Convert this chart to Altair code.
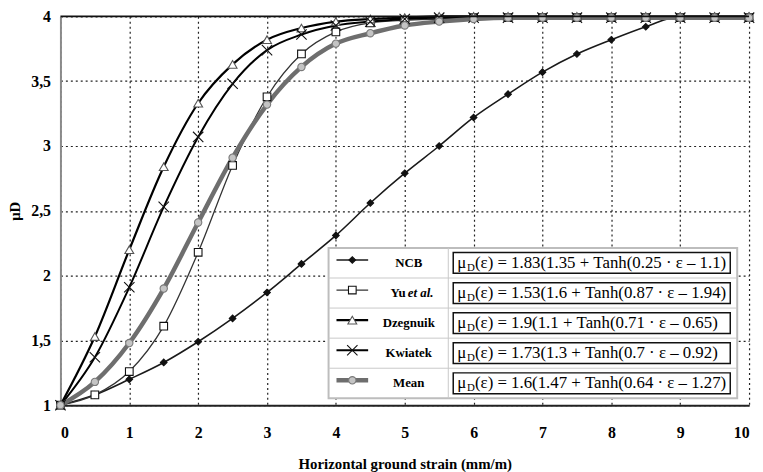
import altair as alt
import pandas as pd

# ---------------- data ----------------
strain = [0, 0.5, 1, 1.5, 2, 2.5, 3, 3.5, 4, 4.5, 5, 5.5, 6, 6.5, 7, 7.5, 8, 8.5, 9, 9.5, 10]
ncb = [1.0, 1.08, 1.20, 1.33, 1.49, 1.67, 1.87, 2.09, 2.31, 2.56, 2.79, 3.00, 3.22, 3.40,
       3.57, 3.71, 3.82, 3.92, 4.0, 4.0, 4.0]
yu = [1.0, 1.08, 1.26, 1.61, 2.18, 2.85, 3.38, 3.71, 3.88, 3.95, 3.97, 3.98, 3.99, 3.99,
      3.99, 3.99, 3.99, 3.99, 3.99, 3.99, 3.99]
dzegnuik = [1.0, 1.53, 2.20, 2.84, 3.33, 3.63, 3.82, 3.91, 3.96, 3.98, 3.99, 4.0, 4.0, 4.0,
            4.0, 4.0, 4.0, 4.0, 4.0, 4.0, 4.0]
kwiatek = [1.0, 1.37, 1.91, 2.53, 3.07, 3.48, 3.74, 3.86, 3.93, 3.96, 3.98, 3.99, 3.99, 3.99,
           3.99, 3.99, 3.99, 3.99, 3.99, 3.99, 3.99]
mean = [1.0, 1.18, 1.48, 1.90, 2.41, 2.91, 3.32, 3.61, 3.79, 3.87, 3.93, 3.96, 3.98, 3.99,
        3.99, 3.99, 3.99, 3.99, 3.99, 3.99, 3.99]

series = ["NCB", "Yu et al.", "Dzegnuik", "Kwiatek", "Mean"]
values = [ncb, yu, dzegnuik, kwiatek, mean]
name_main = ["NCB", "Yu", "Dzegnuik", "Kwiatek", "Mean"]
name_italic = ["", "et al.", "", "", ""]
formula_rest = [
    "(ε) = 1.83(1.35 + Tanh(0.25 · ε – 1.1)",
    "(ε) = 1.53(1.6 + Tanh(0.87 · ε – 1.94)",
    "(ε) = 1.9(1.1 + Tanh(0.71 · ε – 0.65)",
    "(ε) = 1.73(1.3 + Tanh(0.7 · ε – 0.92)",
    "(ε) = 1.6(1.47 + Tanh(0.64 · ε – 1.27)",
]
x_ticks = list(range(11))
y_ticks = [1, 1.5, 2, 2.5, 3, 3.5, 4]

# ---------------- styles ----------------
line_colors = ["#1a1a1a", "#333333", "#000000", "#000000", "#6e6e6e"]
line_widths = [1.6, 1.3, 2.2, 2.0, 4.5]
shapes = ["diamond", "square", "triangle-up", "M-1,-1L1,1M-1,1L1,-1", "circle"]
sizes = [45, 60, 80, 110, 55]
fills = ["#111111", "#ffffff", "#ffffff", "#000000", "#c4c4c4"]
strokes = ["#111111", "#111111", "#555555", "#111111", "#7a7a7a"]

W, H = 696, 393
XMAX, YMIN, YMAX = 10, 1, 4
FONT = "Liberation Serif"
TOP = 14  # page y of the plot's top edge

def xd(px):
    return px / W * XMAX

def yd(py):
    return YMAX - py / H * (YMAX - YMIN)

sc_x = alt.Scale(domain=[0, XMAX], nice=False, zero=False)
sc_y = alt.Scale(domain=[YMIN, YMAX], nice=False, zero=False)

x_axis = alt.Axis(values=x_ticks, format="d", title="Horizontal ground strain (mm/m)",
                  labelFont=FONT, labelFontWeight="bold", labelFontSize=16, labelColor="black",
                  labelPadding=20, ticks=False, domainColor="#222222", domainWidth=2,
                  grid=True, gridDash=[2, 3], gridColor="#222222", gridWidth=1.2,
                  titleFont=FONT, titleFontWeight="bold", titleFontSize=15, titleColor="black",
                  titlePadding=16)
y_axis = alt.Axis(values=y_ticks, labelExpr="replace(format(datum.value, '.1~f'), '.', ',')",
                  title="μD", labelFont=FONT, labelFontWeight="bold", labelFontSize=16,
                  labelColor="black", labelPadding=10, ticks=False, domainColor="#8a8a8a",
                  domainWidth=2, grid=True, gridDash=[2, 3], gridColor="#222222", gridWidth=1.2,
                  titleFont=FONT, titleFontWeight="bold", titleFontSize=15, titleColor="black",
                  titlePadding=8)

def X(field):
    return alt.X(field, type="quantitative", scale=sc_x, axis=x_axis)

def Y(field):
    return alt.Y(field, type="quantitative", scale=sc_y, axis=y_axis)

line_layers = []
point_layers = []
for k, (s, v) in enumerate(zip(series, values)):
    d = pd.DataFrame({"strain": strain, "mu": v})
    line_layers.append(alt.Chart(d).mark_line(
        interpolate="monotone", color=line_colors[k], strokeWidth=line_widths[k]
    ).encode(x=X("strain"), y=Y("mu")))
    point_layers.append(alt.Chart(d).mark_point(
        filled=True, opacity=1, shape=shapes[k], size=sizes[k], fill=fills[k],
        stroke=strokes[k], strokeWidth=1.1
    ).encode(x=X("strain"), y=Y("mu")))

top_border = alt.Chart(pd.DataFrame({"x0": [0], "x1": [XMAX], "y": [YMAX]})).mark_rule(
    color="#111111", strokeWidth=1.6).encode(x=X("x0"), x2="x1", y=Y("y"))

# ---------------- custom legend table (pixel layout inside the plot) ----------------
L_left, L_right, L_top, L_bottom = 271, 684, 248 - TOP, 400 - TOP
row_h = (L_bottom - L_top) / len(series)
col_div = 392
cy = [L_top + row_h * (i + 0.5) for i in range(len(series))]

frame_df = pd.DataFrame({"x0": [xd(L_left)], "x1": [xd(L_right)],
                         "y0": [yd(L_top)], "y1": [yd(L_bottom)], "xc": [xd(col_div)]})
sep_df = pd.DataFrame({"y": [yd(L_top + row_h * k) for k in range(1, len(series))],
                       "x0": xd(L_left), "x1": xd(L_right)})

leg_layers = [
    alt.Chart(frame_df).mark_rect(fill="white", stroke="#bdbdbd", strokeWidth=2).encode(
        x=X("x0"), x2="x1", y=Y("y0"), y2="y1"),
    alt.Chart(frame_df).mark_rule(color="#c8c8c8", strokeWidth=1).encode(
        x=X("xc"), y=Y("y0"), y2="y1"),
    alt.Chart(sep_df).mark_rule(color="#c8c8c8", strokeWidth=1).encode(
        x=X("x0"), x2="x1", y=Y("y")),
]

for k in range(len(series)):
    c = cy[k]
    d = pd.DataFrame({
        "xs0": [xd(279)], "xs1": [xd(311)], "xsc": [xd(295)], "ysym": [yd(c - 3)],
        "yc": [yd(c)], "yt": [yd(c - 10.5)], "yb": [yd(c + 10.5)],
        "xb0": [xd(397)], "xb1": [xd(677)], "xmu": [xd(401)], "xsub": [xd(411)],
        "xrest": [xd(419)], "xname": [xd(352)], "xyu": [xd(349)], "xetal": [xd(351)],
        "name": [name_main[k]], "ital": [name_italic[k]], "rest": [formula_rest[k]],
    })
    b = alt.Chart(d)
    leg_layers.append(b.mark_rule(color=line_colors[k], strokeWidth=line_widths[k]).encode(
        x=X("xs0"), x2="xs1", y=Y("ysym")))
    leg_layers.append(b.mark_point(
        filled=True, opacity=1, shape=shapes[k], size=sizes[k], fill=fills[k],
        stroke=strokes[k], strokeWidth=1.1).encode(x=X("xsc"), y=Y("ysym")))
    if name_italic[k]:
        leg_layers.append(b.mark_text(font=FONT, fontWeight="bold", fontSize=13, color="black",
                                      align="right", baseline="middle").encode(
            x=X("xyu"), y=Y("yc"), text="name:N"))
        leg_layers.append(b.mark_text(font=FONT, fontWeight="bold", fontStyle="italic",
                                      fontSize=13, color="black", align="left",
                                      baseline="middle").encode(
            x=X("xetal"), y=Y("yc"), text="ital:N"))
    else:
        leg_layers.append(b.mark_text(font=FONT, fontWeight="bold", fontSize=13, color="black",
                                      align="center", baseline="middle").encode(
            x=X("xname"), y=Y("yc"), text="name:N"))
    leg_layers.append(b.mark_rect(fill="white", stroke="#111111", strokeWidth=1.5).encode(
        x=X("xb0"), x2="xb1", y=Y("yt"), y2="yb"))
    leg_layers.append(b.mark_text(font=FONT, fontSize=17, color="black", align="left",
                                  baseline="middle", text="μ").encode(x=X("xmu"), y=Y("yc")))
    leg_layers.append(b.mark_text(font=FONT, fontSize=11, color="black", align="left",
                                  baseline="middle", dy=5, text="D").encode(
        x=X("xsub"), y=Y("yc")))
    leg_layers.append(b.mark_text(font=FONT, fontSize=17, color="black", align="left",
                                  baseline="middle").encode(
        x=X("xrest"), y=Y("yc"), text="rest:N"))

chart = alt.layer(
    *line_layers, *point_layers, top_border, *leg_layers
).properties(
    width=W, height=H,
    autosize=alt.AutoSizeParams(type="none"),
    padding={"left": 53, "top": TOP - 8, "right": 6, "bottom": 65},
    background="white",
).configure_view(stroke=None)

chart.save("out.html", embed_options={"renderer": "svg", "actions": False})
